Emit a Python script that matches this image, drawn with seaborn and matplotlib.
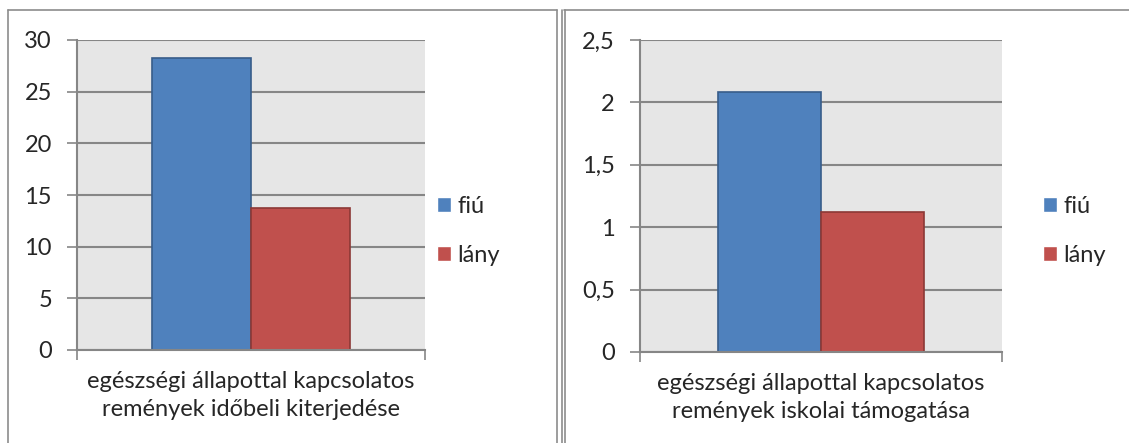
import matplotlib
matplotlib.use("Agg")
import matplotlib.pyplot as plt
import matplotlib.ticker as mticker
from matplotlib.lines import Line2D
import pandas as pd
import seaborn as sns

# data
groups = ["fiú", "lány"]
ido_values = [28.25, 13.75]      # left chart
iskola_values = [2.08, 1.12]     # right chart
label_left = "egészségi állapottal kapcsolatos\nremények időbeli kiterjedése"
label_right = "egészségi állapottal kapcsolatos\nremények iskolai támogatása"

colors = ["#4F81BD", "#C0504D"]
edges = ["#385D8A", "#8C3836"]
grid_gray = "#868686"

sns.set_style("white")
plt.rcParams["font.family"] = ["Lato", "DejaVu Sans"]
FS = 17

W, H = 1129, 443
fig = plt.figure(figsize=(W / 100, H / 100), dpi=100)


def px_axes(x0, y0, x1, y1):
    return fig.add_axes([x0 / W, 1 - y1 / H, (x1 - x0) / W, (y1 - y0) / H])


def draw_panel(ax, values, label, ymax, step, fmt, leg_x):
    df = pd.DataFrame({"cat": [label] * len(groups), "nem": groups, "val": values})
    sns.barplot(data=df, x="cat", y="val", hue="nem", palette=colors,
                width=0.57, ax=ax, saturation=1)
    for patch, ec in zip(ax.patches[:len(groups)], edges):
        patch.set_edgecolor(ec)
        patch.set_linewidth(1.2)
    ax.set_facecolor("#E6E6E6")
    ax.set_xlim(-0.5, 0.5)
    ax.set_ylim(0, ymax)
    ax.set_yticks([i * step for i in range(int(round(ymax / step)) + 1)])
    ax.yaxis.set_major_formatter(mticker.FuncFormatter(fmt))
    ax.grid(axis="y", color=grid_gray, linewidth=1.5)
    ax.set_axisbelow(True)
    for s in ["top", "right"]:
        ax.spines[s].set_visible(False)
    for s in ["left", "bottom"]:
        ax.spines[s].set_color(grid_gray)
        ax.spines[s].set_linewidth(1.5)
    ax.tick_params(axis="y", length=7, width=1.2, color=grid_gray,
                   pad=11, labelsize=FS, left=True)
    ax.set_xticks([0])
    ax.set_xticklabels([label], fontsize=FS, linespacing=1.4)
    ax.tick_params(axis="x", length=0, pad=15)
    ax.set_xticks([-0.5, 0.5], minor=True)
    ax.tick_params(axis="x", which="minor", length=7, width=1.2,
                   color=grid_gray, bottom=True)
    ax.set_xlabel("")
    ax.set_ylabel("")
    handles, labels = ax.get_legend_handles_labels()
    ax.legend(handles, labels, loc="center left",
              bbox_to_anchor=(leg_x, 1 - 231 / H), bbox_transform=fig.transFigure,
              frameon=False, fontsize=FS, handlelength=0.6,
              handleheight=0.6, handletextpad=0.25, labelspacing=1.2,
              borderaxespad=0, borderpad=0)


ax1 = px_axes(77, 40, 425, 350)
draw_panel(ax1, ido_values, label_left, 30, 5, lambda v, p: f"{v:g}", 437 / W)

ax2 = px_axes(640, 40, 1002, 352)
draw_panel(ax2, iskola_values, label_right, 2.5, 0.5,
           lambda v, p: f"{v:g}".replace(".", ","), 1043 / W)

# panel frames
def fig_line(xs, ys, lw=1.2):
    fig.add_artist(Line2D([x / W for x in xs], [1 - y / H for y in ys],
                          color="#8C8C8C", linewidth=lw, transform=fig.transFigure))

fig_line([8, 8], [10, 443])
fig_line([8, 557], [10, 10])
fig_line([557, 557], [10, 443])
fig_line([562, 562], [10, 443])
fig_line([564.5, 564.5], [10, 443])
fig_line([564, 1129], [10, 10])

fig.savefig("out.png", dpi=100)
